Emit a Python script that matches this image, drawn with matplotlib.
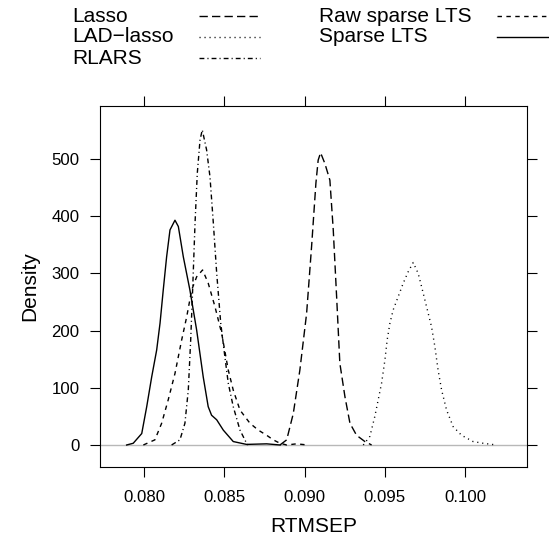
import matplotlib
matplotlib.use("Agg")
import matplotlib.pyplot as plt
from matplotlib.lines import Line2D

plt.rcParams['font.family'] = ['Liberation Sans', 'DejaVu Sans']

# ---- data (RTMSEP value, density) ----
methods = ["Lasso", "LAD\u2212lasso", "RLARS", "Raw sparse LTS", "Sparse LTS"]

lasso_x = [0.08847, 0.08889, 0.08930, 0.08971, 0.09013, 0.09044, 0.09071, 0.09085,
           0.09100, 0.09127, 0.09158, 0.09179, 0.09200, 0.09220, 0.09252, 0.09283,
           0.09324, 0.09376, 0.09418]
lasso_y = [0, 9, 55, 131, 230, 347, 458, 498, 511, 492, 463, 376, 259, 143, 84, 38,
           17, 6, 0]

ladlasso_x = [0.09366, 0.09407, 0.09438, 0.09459, 0.09480, 0.09501, 0.09515, 0.09532,
              0.09552, 0.09583, 0.09615, 0.09646, 0.09677, 0.09708, 0.09729, 0.09760,
              0.09791, 0.09812, 0.09832, 0.09854, 0.09885, 0.09926, 0.09978, 0.10050,
              0.10113, 0.10196]
ladlasso_y = [0, 15, 50, 79, 108, 149, 184, 213, 236, 259, 283, 303, 319, 300, 277,
              242, 207, 172, 131, 96, 61, 32, 17, 6, 3, 0]

rlars_x = [0.08172, 0.08224, 0.08255, 0.08276, 0.08291, 0.08303, 0.08318, 0.08332,
           0.08349, 0.08363, 0.08390, 0.08411, 0.08432, 0.08453, 0.08478, 0.08504,
           0.08525, 0.08556, 0.08598, 0.08639, 0.08649]
rlars_y = [0, 9, 38, 96, 184, 271, 388, 475, 533, 551, 516, 469, 388, 300, 213, 154,
           108, 67, 26, 3, 0]

rawlts_x = [0.07996, 0.08068, 0.08110, 0.08151, 0.08193, 0.08235, 0.08266, 0.08297,
            0.08328, 0.08365, 0.08400, 0.08442, 0.08484, 0.08525, 0.08556, 0.08598,
            0.08660, 0.08712, 0.08764, 0.08805, 0.08847, 0.08889, 0.08950, 0.09020]
rawlts_y = [0, 9, 38, 79, 125, 184, 224, 271, 294, 306, 283, 242, 195, 131, 96, 61,
            38, 26, 17, 9, 3, 0, 2, 0]

sparselts_x = [0.07892, 0.07933, 0.07986, 0.08017, 0.08048, 0.08079, 0.08100, 0.08120,
               0.08141, 0.08162, 0.08193, 0.08214, 0.08245, 0.08286, 0.08328, 0.08369,
               0.08400, 0.08421, 0.08453, 0.08494, 0.08556, 0.08639, 0.08764, 0.08847]
sparselts_y = [0, 3, 20, 67, 119, 166, 213, 271, 329, 376, 393, 382, 329, 271, 201,
               119, 67, 52, 44, 26, 6, 1, 2, 0]

xticks = [0.080, 0.085, 0.090, 0.095, 0.100]
xticklabels = ["0.080", "0.085", "0.090", "0.095", "0.100"]
yticks = [0, 100, 200, 300, 400, 500]

# ---- styles ----
dash_styles = [
    (0, (6.0, 3.0)),              # Lasso
    (0, (0.8, 2.8)),              # LAD-lasso
    (0, (3.5, 2.2, 0.8, 2.2)),    # RLARS
    (0, (3.2, 3.2)),              # Raw sparse LTS
    "-",                          # Sparse LTS
]
series = [(lasso_x, lasso_y), (ladlasso_x, ladlasso_y), (rlars_x, rlars_y),
          (rawlts_x, rawlts_y), (sparselts_x, sparselts_y)]

W, H = 549, 539
fig = plt.figure(figsize=(W / 100, H / 100), dpi=100)
ax = fig.add_axes([100 / W, 72 / H, 426.7 / W, 361 / H])

ax.axhline(0, color="0.72", lw=1.0, zorder=0)
for (xs, ys), ls in zip(series, dash_styles):
    ax.plot(xs, ys, color="black", lw=1.0, linestyle=ls)

ax.set_xlim(0.07726, 0.10384)
ax.set_ylim(-38.5, 592.7)
ax.set_xticks(xticks)
ax.set_xticklabels(xticklabels)
ax.set_yticks(yticks)
ax.tick_params(direction="out", length=7.2, width=0.8, top=True, right=True,
               labelsize=12.1, colors="black")
ax.tick_params(axis="x", pad=9)
ax.tick_params(axis="y", pad=7.5)
for s in ax.spines.values():
    s.set_linewidth(0.8)

ax.set_xlabel("RTMSEP", fontsize=15, labelpad=9)
ax.set_ylabel("Density", fontsize=15, labelpad=9)

# ---- key (top, two columns: text then line) ----
col_text_x = [72, 319]
col_line_x = [(199, 260), (497, 558)]
row_y = [16, 37, 58]
positions = [(0, 0), (0, 1), (0, 2), (1, 0), (1, 1)]
for name, ls, (c, r) in zip(methods, dash_styles, positions):
    fig.text(col_text_x[c] / W, 1 - row_y[r] / H, name, fontsize=15,
             ha="left", va="center")
    x0, x1 = col_line_x[c]
    fig.add_artist(Line2D([x0 / W, x1 / W], [1 - row_y[r] / H] * 2,
                          color="black", lw=1.0, linestyle=ls,
                          transform=fig.transFigure))

fig.savefig("out.png", dpi=100)
